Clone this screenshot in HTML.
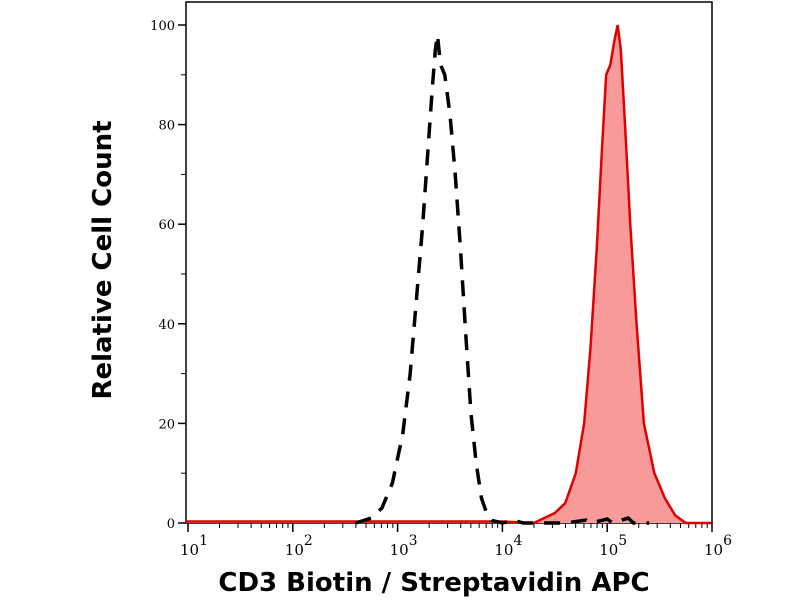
<!DOCTYPE html>
<html><head><meta charset="utf-8"><style>
body{margin:0;background:#fff}
svg{display:block}
</style></head><body>
<svg id="chart" width="800" height="600" xmlns="http://www.w3.org/2000/svg"></svg>
<script>
const xTickExps=[1,2,3,4,5,6];
const yTickVals=[0,20,40,60,80,100];
const isoLogX=[2.6,2.75,2.85,2.95,3.05,3.12,3.18,3.24,3.29,3.33,3.36,3.38,3.41,3.45,3.5,3.55,3.6,3.65,3.7,3.75,3.8,3.85,3.9,4.0,4.1,4.2,4.6,4.8,4.85,5.0,5.05,5.2,5.25,5.4];
const isoY=[0,1,3,8,18,30,45,60,75,87,95,98,92,90,82,70,55,38,22,12,5,2,0.5,0,0.6,0,0,0.6,0,0.8,0,1,0,0];
const cd3LogX=[0.98,2,3,4,4.3,4.4,4.5,4.6,4.7,4.78,4.84,4.9,4.95,4.99,5.03,5.07,5.1,5.13,5.17,5.22,5.28,5.35,5.45,5.55,5.65,5.75,6.0];
const cd3Y=[0.3,0.3,0.3,0.3,0,1,2,4,10,20,35,55,75,90,92,97,100,95,80,60,40,20,10,5,1.5,0,0];

const NS='http://www.w3.org/2000/svg';
const svg=document.getElementById('chart');
const L=186,R=712,T=2,B=523;
const xs=e=>188+(e-1)*104.8;
const ys=v=>523-v*4.98;
function mk(t,a){const e=document.createElementNS(NS,t);for(const k in a)e.setAttribute(k,a[k]);svg.appendChild(e);return e;}

const frame=mk('rect',{x:L,y:T,width:R-L,height:B-T,fill:'none',stroke:'#000','stroke-width':1.5});



let d='M'+xs(cd3LogX[0])+','+ys(0);
cd3LogX.forEach((x,i)=>{d+=' L'+xs(x)+','+ys(cd3Y[i]);});
d+=' L'+xs(cd3LogX[cd3LogX.length-1])+','+ys(0)+' Z';
const fill=mk('path',{d:d,fill:'#f89a9a',stroke:'none'});


let d2='M'+cd3LogX.map((x,i)=>xs(x)+','+ys(cd3Y[i])).join(' L');
const red=mk('path',{d:d2,fill:'none',stroke:'#e00000','stroke-width':2.5});



let d3='M'+isoLogX.map((x,i)=>xs(x)+','+ys(isoY[i])).join(' L');
const blk=mk('path',{d:d3,fill:'none',stroke:'#000','stroke-width':3.5,'stroke-dasharray':'16,11'});



yTickVals.forEach(v=>{
  const tk=mk('line',{x1:L-8,x2:L,y1:ys(v),y2:ys(v),stroke:'#000','stroke-width':1.5});
  
  
  const t=mk('text',{x:L-11,y:ys(v)+5,'text-anchor':'end','font-family':'DejaVu Serif, serif','font-size':13});
  t.textContent=v;
  
  
  if(v<100){const m=mk('line',{x1:L-5,x2:L,y1:ys(v+10),y2:ys(v+10),stroke:'#000','stroke-width':1});
  
  }
});
xTickExps.forEach(e=>{
  const tk=mk('line',{x1:xs(e),x2:xs(e),y1:B,y2:B+9,stroke:'#000','stroke-width':1.5});
  
  
  const t=mk('text',{x:xs(e)+6,y:B+32,'text-anchor':'middle','font-family':'DejaVu Serif, serif','font-size':15});
  
  
  t.innerHTML='10<tspan dy="-10" font-size="14">'+e+'</tspan>';
  if(e<6){for(let k=2;k<=9;k++){const xx=xs(e+Math.log10(k));
    const m=mk('line',{x1:xx,x2:xx,y1:B,y2:B+5,stroke:'#000','stroke-width':1});
    
    }}
});
const xt=mk('text',{x:434,y:591,'text-anchor':'middle','font-family':'DejaVu Sans, sans-serif','font-size':26,'font-weight':'bold'});
xt.textContent='CD3 Biotin / Streptavidin APC';


const yt=mk('text',{x:0,y:0,transform:'translate(111,260) rotate(-90)','text-anchor':'middle','font-family':'DejaVu Sans, sans-serif','font-size':26,'font-weight':'bold'});
yt.textContent='Relative Cell Count';


</script>
</body></html>
